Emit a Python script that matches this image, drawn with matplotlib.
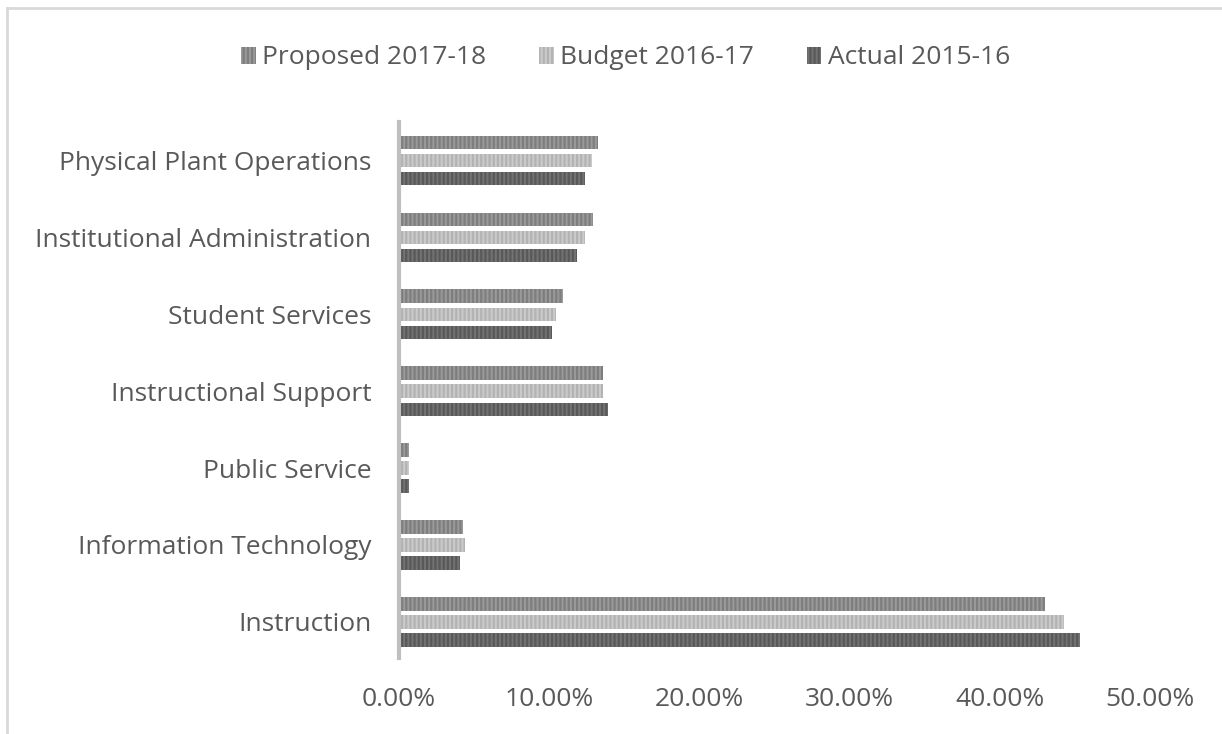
import numpy as np
import matplotlib.pyplot as plt
from matplotlib.lines import Line2D

plt.rcParams['font.family'] = ['Open Sans', 'DejaVu Sans']
plt.rcParams['hatch.linewidth'] = 1.6

categories = ['Instruction', 'Information Technology', 'Public Service',
              'Instructional Support', 'Student Services',
              'Institutional Administration', 'Physical Plant Operations']
proposed = [0.430, 0.0425, 0.0065, 0.136, 0.109, 0.129, 0.1325]
budget = [0.443, 0.044, 0.0065, 0.136, 0.1045, 0.124, 0.1285]
actual = [0.4535, 0.0405, 0.0065, 0.139, 0.102, 0.1185, 0.124]

series = [
    ('Proposed 2017-18', proposed, '#9a9a9a', '#7e7e7e', 0.235),
    ('Budget 2016-17', budget, '#cbcbcb', '#b3b3b3', 0.0),
    ('Actual 2015-16', actual, '#737373', '#595959', -0.235),
]

fig = plt.figure(figsize=(12.22, 7.34), dpi=100)
ax = fig.add_axes([0.3265, 0.1035, 0.6146, 0.7303])

y = np.arange(len(categories))
handles = []
for name, vals, face, hatchc, off in series:
    b = ax.barh(y + off, vals, height=0.175, color=face, edgecolor=hatchc,
                linewidth=0, hatch='||||', label=name)
    handles.append(b)

ax.set_xlim(0, 0.5)
ax.set_ylim(-0.47, 6.5)
ax.set_yticks(y)
ax.set_yticklabels(categories)
ax.set_xticks(np.arange(0, 0.51, 0.1))
ax.set_xticklabels(['%.2f%%' % (v * 100) for v in np.arange(0, 0.51, 0.1)])
ax.tick_params(axis='both', length=0, labelsize=19, colors='#595959')
ax.tick_params(axis='y', pad=20)
ax.tick_params(axis='x', pad=21)
for s in ['top', 'right', 'bottom']:
    ax.spines[s].set_visible(False)
ax.spines['left'].set_color('#bfbfbf')
ax.spines['left'].set_linewidth(3)

fig.legend(handles=handles, loc='center', bbox_to_anchor=(0.512, 0.921), ncol=3,
           frameon=False, fontsize=19, labelcolor='#595959', handlelength=0.55,
           handleheight=0.6, handletextpad=0.25, columnspacing=2.0)

# chart border (only top and left visible in the crop)
fig.add_artist(Line2D([7 / 1222, 7 / 1222], [0, 1 - 8 / 734],
                      transform=fig.transFigure, color='#d9d9d9', lw=2))
fig.add_artist(Line2D([7 / 1222, 1], [1 - 8 / 734, 1 - 8 / 734],
                      transform=fig.transFigure, color='#d9d9d9', lw=2))

fig.savefig('out.png', dpi=100)
